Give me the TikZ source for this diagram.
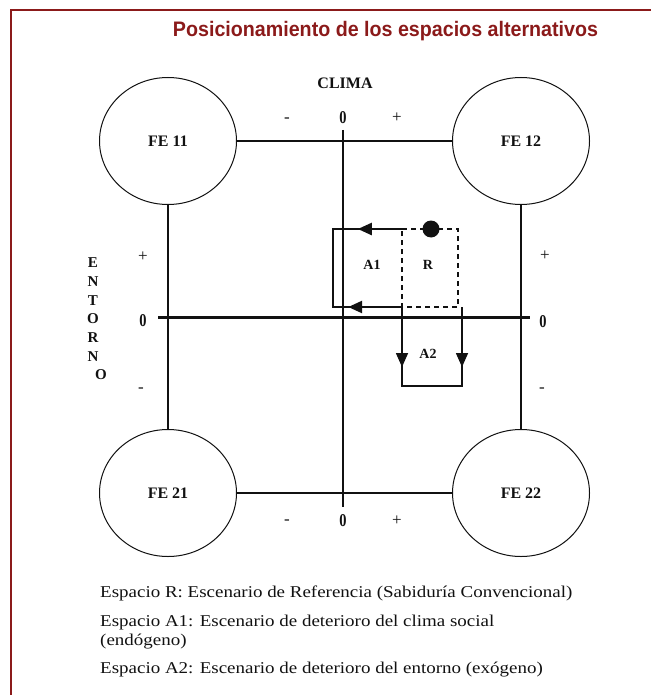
\documentclass[tikz,border=0pt]{standalone}
\usepackage{fontspec}
\setmainfont{Liberation Serif}
\setsansfont{Liberation Sans}
\usetikzlibrary{arrows.meta,positioning,calc,shapes.geometric}
\usepackage{xcolor}
\definecolor{frame}{HTML}{8B1A1A}
\definecolor{ink}{HTML}{111111}
\tikzset{
  >={Triangle[length=14pt,width=12pt]},
  every node/.style={text=ink,inner sep=0pt},
  frameline/.style={draw=frame,line width=2pt},
  title/.style={font=\sffamily\bfseries\fontsize{21}{21}\selectfont,text=frame},
  fe/.style={ellipse,draw=ink,line width=1pt,minimum width=137pt,minimum height=127pt,font=\fontsize{16}{16}\selectfont\bfseries},
  link/.style={draw=ink,line width=1.2pt},
  vaxis/.style={draw=ink,line width=1.5pt},
  haxis/.style={draw=ink,line width=3pt},
  axlabel/.style={font=\fontsize{16}{16}\selectfont\bfseries},
  zero/.style={font=\fontsize{18}{18}\selectfont\bfseries},
  sign/.style={font=\fontsize{17}{17}\selectfont},
  tag/.style={font=\fontsize{14}{14}\selectfont\bfseries},
  apath/.style={draw=ink,line width=2.5pt},
  bpath/.style={draw=ink,line width=1.5pt},
  rbox/.style={draw=ink,line width=1.2pt,dash pattern=on 5pt off 4pt},
  legend/.style={anchor=west,align=left,font=\fontsize{16.5}{19}\selectfont},
}
\newcommand{\wide}[1]{\scalebox{1.15}[1]{#1}}
\newcommand{\slim}[1]{\scalebox{0.8}[1]{#1}}

\begin{document}
\begin{tikzpicture}[x=1pt,y=-1pt]
\useasboundingbox (0,0) rectangle (651,695);

% frame and title
\draw[frameline] (11,695) -- (11,10) -- (651,10);
\node[title] (title) at (385.5,31) {\resizebox{425pt}{\height}{Posicionamiento de los espacios alternativos}};

% four scenarios
\node[fe] (fe11) at (168,141) {FE 11};
\node[fe] (fe12) at (521,141) {FE 12};
\node[fe] (fe21) at (168,493) {FE 21};
\node[fe] (fe22) at (521,493) {FE 22};

\draw[link] (fe11) -- (fe12);
\draw[link] (fe21) -- (fe22);
\draw[link] (fe11) -- (fe21);
\draw[link] (fe12) -- (fe22);

% axes
\coordinate (ctop) at (343,130);
\coordinate (cbot) at (343,507);
\coordinate (eleft) at (158,317);
\coordinate (eright) at (530,317);
\draw[vaxis] (ctop) -- (cbot);
\draw[haxis] (eleft) -- (eright);

\node[axlabel] (clima) at (345,83) {CLIMA};
\node[zero] (z0t) at (343,118) {\slim{0}};
\node[sign] (mt) at (287,120) {-};
\node[sign] (pt) at (397,118) {+};
\node[zero] (z0b) at (343,521) {\slim{0}};
\node[sign] (mb) at (287,522) {-};
\node[sign] (pb) at (397,521) {+};

\node[axlabel,align=center,font=\fontsize{15}{18.7}\selectfont\bfseries] (entorno) at (93,319)
  {E\\N\\T\\O\\R\\N\\\hspace*{16pt}O};
\node[sign] (pl) at (143,257) {+};
\node[zero] (z0l) at (143,321) {\slim{0}};
\node[sign] (ml) at (141,390) {-};
\node[sign] (pr) at (545,256) {+};
\node[zero] (z0r) at (543,322) {\slim{0}};
\node[sign] (mr) at (542,390) {-};

% spaces R, A1, A2
\coordinate (rtl) at (402,229);
\coordinate (rtr) at (458,229);
\coordinate (rbr) at (458,307);
\coordinate (rbl) at (402,307);
\coordinate (a1tl) at (333,229);
\coordinate (a1bl) at (333,307);
\coordinate (a2r) at (462,307);
\coordinate (a2bl) at (402,386);
\coordinate (a2br) at (462,386);

\draw[rbox] (rtl) -- (rtr) -- (rbr) -- (rbl) -- cycle;
\draw[apath] (rtl) -- (a1tl) -- (a1bl) -- (rbl);
\draw[apath,->] (rtl) -- ($(rtl)!0.64!(a1tl)$);
\draw[apath,->] (rbl) -- ($(rbl)!0.78!(a1bl)$);
\draw[bpath] (rbl) -- (a2bl) -- (a2br) -- (a2r);
\draw[bpath,->] (rbl) -- ($(rbl)!0.76!(a2bl)$);
\draw[bpath,->] (a2r) -- ($(a2r)!0.76!(a2br)$);

\node[circle,fill=ink,minimum size=17pt] (dot) at (431,229) {};
\node[tag] (a1) at (372,265) {A1};
\node[tag] (r) at (428,265) {R};
\node[tag] (a2) at (428,354) {A2};

% legend
\node[legend] (l1) at (100,593) {\wide{Espacio R: Escenario de Referencia (Sabiduría Convencional)}};
\node[legend] (l2) at (100,632) {\wide{Espacio A1: Escenario de deterioro del clima social}\\\wide{(endógeno)}};
\node[legend] (l3) at (100,670) {\wide{Espacio A2: Escenario de deterioro del entorno (exógeno)}};

\end{tikzpicture}
\end{document}
